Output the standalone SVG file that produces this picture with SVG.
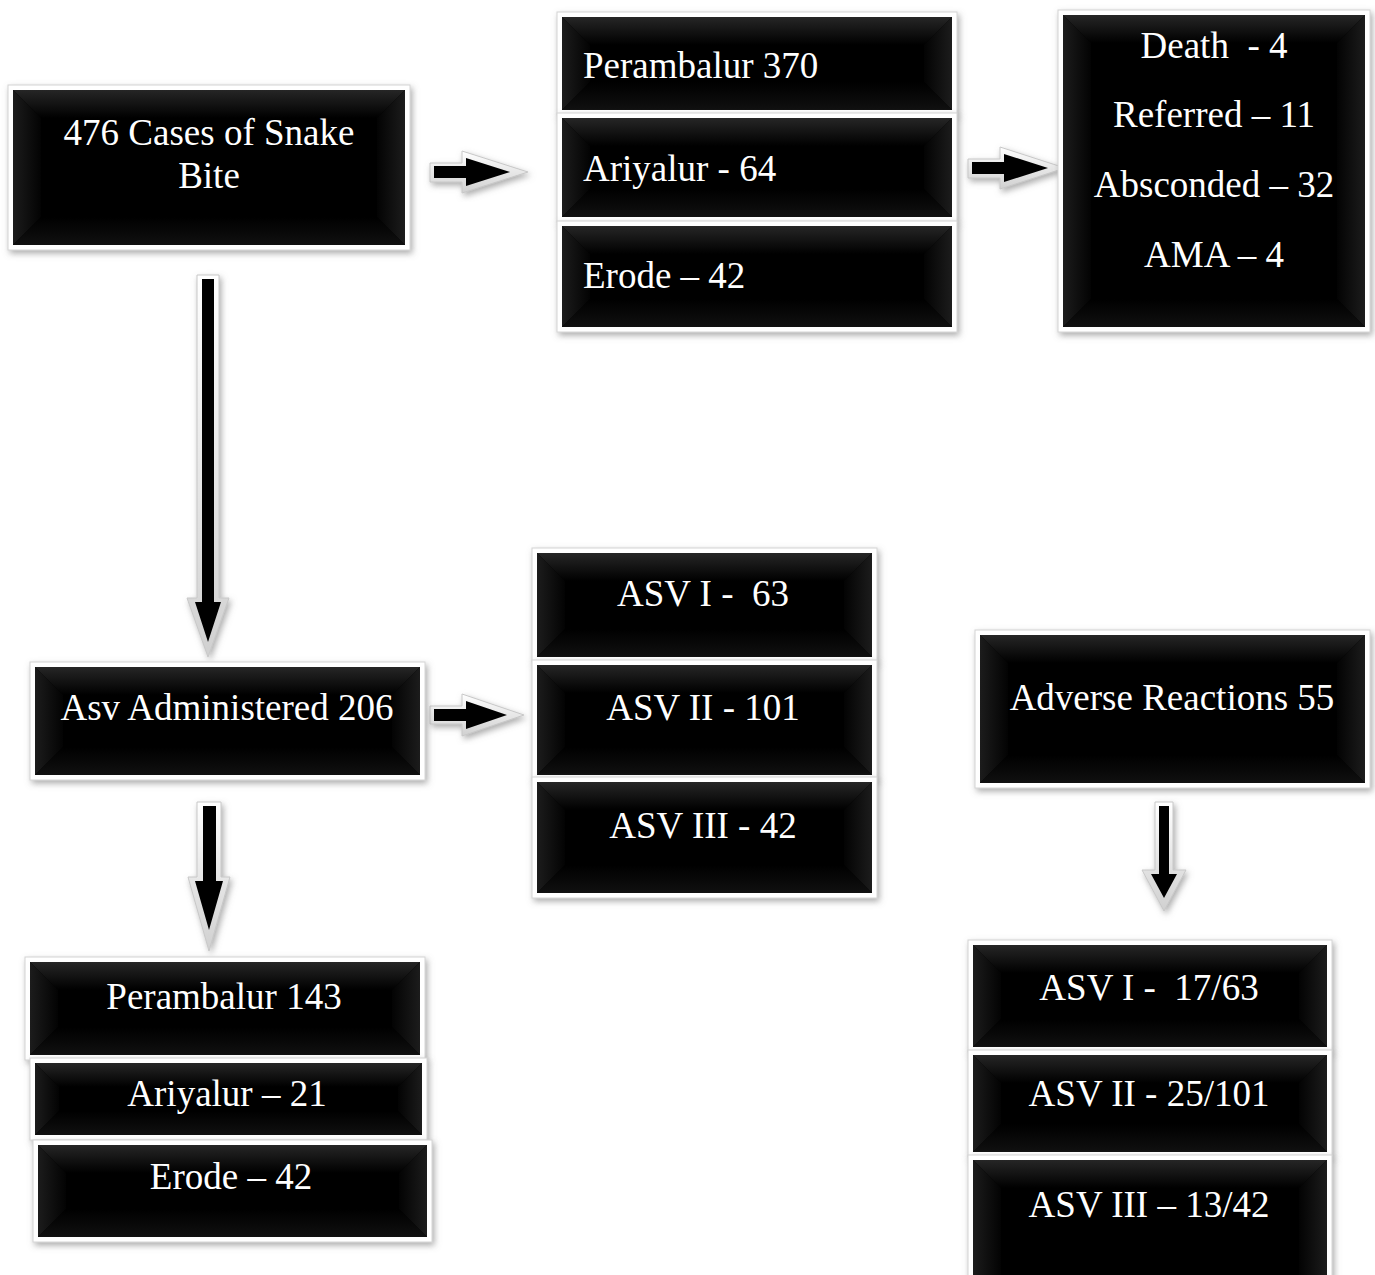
<svg xmlns="http://www.w3.org/2000/svg" width="1375" height="1275" viewBox="0 0 1375 1275">
<defs>
<filter id="sh" x="-10%" y="-10%" width="130%" height="130%">
<feDropShadow dx="2" dy="3" stdDeviation="3" flood-color="#777" flood-opacity="0.6"/>
</filter>
<linearGradient id="gTop" x1="0" y1="0" x2="0" y2="1">
<stop offset="0" stop-color="#262626"/><stop offset="1" stop-color="#000"/>
</linearGradient>
<linearGradient id="gBot" x1="0" y1="0" x2="0" y2="1">
<stop offset="0" stop-color="#000"/><stop offset="1" stop-color="#101010"/>
</linearGradient>
<linearGradient id="gL" x1="0" y1="0" x2="1" y2="0">
<stop offset="0" stop-color="#1c1c1c"/><stop offset="1" stop-color="#030303"/>
</linearGradient>
<linearGradient id="gR" x1="0" y1="0" x2="1" y2="0">
<stop offset="0" stop-color="#030303"/><stop offset="1" stop-color="#1c1c1c"/>
</linearGradient>
<linearGradient id="gAr" x1="0" y1="0" x2="0" y2="1">
<stop offset="0" stop-color="#ffffff"/><stop offset="1" stop-color="#d0d0d0"/>
</linearGradient>
</defs>
<style>
.frame{fill:#ffffff;stroke:#d4d4d4;stroke-width:1;filter:url(#sh)}
.core{fill:#000}
.bt{fill:url(#gTop)}
.bb{fill:url(#gBot)}
.bl{fill:url(#gL)}
.br{fill:url(#gR)}
text{font-family:"Liberation Serif","Times New Roman",serif;font-size:37px;fill:#fff}
.c{text-anchor:middle}
.aout{fill:url(#gAr);stroke:#c8c8c8;stroke-width:1;filter:url(#sh)}
.ain{fill:#000}
</style>

<g id="connectors">
<g id="arrow-cases-to-districts">
<path class="aout" d="M430,163 L462,163 L462,151 L528,172 L462,193 L462,182 L430,182 Z"/>
<path class="ain" d="M434,166 L466,166 L466,158 L510,172 L466,186 L466,178 L434,178 Z"/>
</g>
<g id="arrow-districts-to-outcomes">
<path class="aout" d="M968,159 L1000,159 L1000,147 L1065,168 L1000,189 L1000,178 L968,178 Z"/>
<path class="ain" d="M972,162 L1004,162 L1004,154 L1048,168 L1004,182 L1004,174 L972,174 Z"/>
</g>
<g id="arrow-asv-to-types">
<path class="aout" d="M430,706 L462,706 L462,694 L524,715 L462,736 L462,724 L430,724 Z"/>
<path class="ain" d="M434,709 L466,709 L466,701 L507,715 L466,729 L466,721 L434,721 Z"/>
</g>
<g id="arrow-cases-to-asv">
<path class="aout" d="M197,275 L219,275 L219,598 L229,598 L208,657 L187,598 L197,598 Z"/>
<path class="ain" d="M202,279 L214,279 L214,602 L221,602 L208,642 L195,602 L202,602 Z"/>
</g>
<g id="arrow-asv-to-districts">
<path class="aout" d="M197,802 L221,802 L221,877 L230,877 L209,951 L188,877 L197,877 Z"/>
<path class="ain" d="M203,806 L216,806 L216,881 L223,881 L209,930 L195,881 L203,881 Z"/>
</g>
<g id="arrow-adverse-to-types">
<path class="aout" d="M1155,802 L1173,802 L1173,870 L1186,870 L1164,911 L1142,870 L1155,870 Z"/>
<path class="ain" d="M1159,806 L1169,806 L1169,874 L1177,874 L1164,898 L1151,874 L1159,874 Z"/>
</g>
</g>

<g id="node-cases">
<rect class="frame" x="8" y="85" width="402" height="165"/>
<rect class="core" x="13" y="90" width="392" height="155"/>
<polygon class="bt" points="13,90 405,90 377,118 41,118"/>
<polygon class="bl" points="13,90 41,118 41,217 13,245"/>
<polygon class="br" points="405,90 405,245 377,217 377,118"/>
<polygon class="bb" points="13,245 41,217 377,217 405,245"/>
<rect class="core" x="41" y="118" width="336" height="99"/>
<text class="c" x="209" y="145">476 Cases of Snake</text>
<text class="c" x="209" y="188">Bite</text>
</g>

<g id="node-perambalur-370">
<rect class="frame" x="557" y="12" width="400" height="103"/>
<rect class="core" x="562" y="17" width="390" height="93"/>
<polygon class="bt" points="562,17 952,17 924,45 590,45"/>
<polygon class="bl" points="562,17 590,45 590,82 562,110"/>
<polygon class="br" points="952,17 952,110 924,82 924,45"/>
<polygon class="bb" points="562,110 590,82 924,82 952,110"/>
<rect class="core" x="590" y="45" width="334" height="37"/>
<text x="583" y="78">Perambalur 370</text>
</g>

<g id="node-ariyalur-64">
<rect class="frame" x="557" y="113" width="400" height="109"/>
<rect class="core" x="562" y="118" width="390" height="99"/>
<polygon class="bt" points="562,118 952,118 924,146 590,146"/>
<polygon class="bl" points="562,118 590,146 590,189 562,217"/>
<polygon class="br" points="952,118 952,217 924,189 924,146"/>
<polygon class="bb" points="562,217 590,189 924,189 952,217"/>
<rect class="core" x="590" y="146" width="334" height="43"/>
<text x="583" y="181">Ariyalur - 64</text>
</g>

<g id="node-erode-42-top">
<rect class="frame" x="557" y="221" width="400" height="111"/>
<rect class="core" x="562" y="226" width="390" height="101"/>
<polygon class="bt" points="562,226 952,226 924,254 590,254"/>
<polygon class="bl" points="562,226 590,254 590,299 562,327"/>
<polygon class="br" points="952,226 952,327 924,299 924,254"/>
<polygon class="bb" points="562,327 590,299 924,299 952,327"/>
<rect class="core" x="590" y="254" width="334" height="45"/>
<text x="583" y="288">Erode – 42</text>
</g>

<g id="node-outcomes">
<rect class="frame" x="1058" y="10" width="312" height="322"/>
<rect class="core" x="1063" y="15" width="302" height="312"/>
<polygon class="bt" points="1063,15 1365,15 1337,43 1091,43"/>
<polygon class="bl" points="1063,15 1091,43 1091,299 1063,327"/>
<polygon class="br" points="1365,15 1365,327 1337,299 1337,43"/>
<polygon class="bb" points="1063,327 1091,299 1337,299 1365,327"/>
<rect class="core" x="1091" y="43" width="246" height="256"/>
<text class="c" x="1214" y="58" xml:space="preserve">Death  - 4</text>
<text class="c" x="1214" y="127">Referred – 11</text>
<text class="c" x="1214" y="197">Absconded – 32</text>
<text class="c" x="1214" y="267">AMA – 4</text>
</g>

<g id="node-asv-administered">
<rect class="frame" x="30" y="662" width="395" height="118"/>
<rect class="core" x="35" y="667" width="385" height="108"/>
<polygon class="bt" points="35,667 420,667 392,695 63,695"/>
<polygon class="bl" points="35,667 63,695 63,747 35,775"/>
<polygon class="br" points="420,667 420,775 392,747 392,695"/>
<polygon class="bb" points="35,775 63,747 392,747 420,775"/>
<rect class="core" x="63" y="695" width="329" height="52"/>
<text class="c" x="227" y="720">Asv Administered 206</text>
</g>

<g id="node-asv-1">
<rect class="frame" x="532" y="548" width="345" height="114"/>
<rect class="core" x="537" y="553" width="335" height="104"/>
<polygon class="bt" points="537,553 872,553 844,581 565,581"/>
<polygon class="bl" points="537,553 565,581 565,629 537,657"/>
<polygon class="br" points="872,553 872,657 844,629 844,581"/>
<polygon class="bb" points="537,657 565,629 844,629 872,657"/>
<rect class="core" x="565" y="581" width="279" height="48"/>
<text class="c" x="703" y="606" xml:space="preserve">ASV I -  63</text>
</g>

<g id="node-asv-2">
<rect class="frame" x="532" y="660" width="345" height="120"/>
<rect class="core" x="537" y="665" width="335" height="110"/>
<polygon class="bt" points="537,665 872,665 844,693 565,693"/>
<polygon class="bl" points="537,665 565,693 565,747 537,775"/>
<polygon class="br" points="872,665 872,775 844,747 844,693"/>
<polygon class="bb" points="537,775 565,747 844,747 872,775"/>
<rect class="core" x="565" y="693" width="279" height="54"/>
<text class="c" x="703" y="720">ASV II - 101</text>
</g>

<g id="node-asv-3">
<rect class="frame" x="532" y="777" width="345" height="121"/>
<rect class="core" x="537" y="782" width="335" height="111"/>
<polygon class="bt" points="537,782 872,782 844,810 565,810"/>
<polygon class="bl" points="537,782 565,810 565,865 537,893"/>
<polygon class="br" points="872,782 872,893 844,865 844,810"/>
<polygon class="bb" points="537,893 565,865 844,865 872,893"/>
<rect class="core" x="565" y="810" width="279" height="55"/>
<text class="c" x="703" y="838">ASV III - 42</text>
</g>

<g id="node-perambalur-143">
<rect class="frame" x="25" y="957" width="400" height="103"/>
<rect class="core" x="30" y="962" width="390" height="93"/>
<polygon class="bt" points="30,962 420,962 392,990 58,990"/>
<polygon class="bl" points="30,962 58,990 58,1027 30,1055"/>
<polygon class="br" points="420,962 420,1055 392,1027 392,990"/>
<polygon class="bb" points="30,1055 58,1027 392,1027 420,1055"/>
<rect class="core" x="58" y="990" width="334" height="37"/>
<text class="c" x="224" y="1009">Perambalur 143</text>
</g>

<g id="node-ariyalur-21">
<rect class="frame" x="30" y="1058" width="397" height="82"/>
<rect class="core" x="35" y="1063" width="387" height="72"/>
<polygon class="bt" points="35,1063 422,1063 398,1087 59,1087"/>
<polygon class="bl" points="35,1063 59,1087 59,1111 35,1135"/>
<polygon class="br" points="422,1063 422,1135 398,1111 398,1087"/>
<polygon class="bb" points="35,1135 59,1111 398,1111 422,1135"/>
<rect class="core" x="59" y="1087" width="339" height="24"/>
<text class="c" x="227" y="1106">Ariyalur – 21</text>
</g>

<g id="node-erode-42-bottom">
<rect class="frame" x="33" y="1140" width="399" height="102"/>
<rect class="core" x="38" y="1145" width="389" height="92"/>
<polygon class="bt" points="38,1145 427,1145 399,1173 66,1173"/>
<polygon class="bl" points="38,1145 66,1173 66,1209 38,1237"/>
<polygon class="br" points="427,1145 427,1237 399,1209 399,1173"/>
<polygon class="bb" points="38,1237 66,1209 399,1209 427,1237"/>
<rect class="core" x="66" y="1173" width="333" height="36"/>
<text class="c" x="231" y="1189">Erode – 42</text>
</g>

<g id="node-adverse">
<rect class="frame" x="975" y="630" width="395" height="158"/>
<rect class="core" x="980" y="635" width="385" height="148"/>
<polygon class="bt" points="980,635 1365,635 1337,663 1008,663"/>
<polygon class="bl" points="980,635 1008,663 1008,755 980,783"/>
<polygon class="br" points="1365,635 1365,783 1337,755 1337,663"/>
<polygon class="bb" points="980,783 1008,755 1337,755 1365,783"/>
<rect class="core" x="1008" y="663" width="329" height="92"/>
<text class="c" x="1172" y="710">Adverse Reactions 55</text>
</g>

<g id="node-adverse-asv-1">
<rect class="frame" x="968" y="940" width="364" height="112"/>
<rect class="core" x="973" y="945" width="354" height="102"/>
<polygon class="bt" points="973,945 1327,945 1299,973 1001,973"/>
<polygon class="bl" points="973,945 1001,973 1001,1019 973,1047"/>
<polygon class="br" points="1327,945 1327,1047 1299,1019 1299,973"/>
<polygon class="bb" points="973,1047 1001,1019 1299,1019 1327,1047"/>
<rect class="core" x="1001" y="973" width="298" height="46"/>
<text class="c" x="1149" y="1000" xml:space="preserve">ASV I -  17/63</text>
</g>

<g id="node-adverse-asv-2">
<rect class="frame" x="968" y="1050" width="364" height="107"/>
<rect class="core" x="973" y="1055" width="354" height="97"/>
<polygon class="bt" points="973,1055 1327,1055 1299,1083 1001,1083"/>
<polygon class="bl" points="973,1055 1001,1083 1001,1124 973,1152"/>
<polygon class="br" points="1327,1055 1327,1152 1299,1124 1299,1083"/>
<polygon class="bb" points="973,1152 1001,1124 1299,1124 1327,1152"/>
<rect class="core" x="1001" y="1083" width="298" height="41"/>
<text class="c" x="1149" y="1106">ASV II - 25/101</text>
</g>

<g id="node-adverse-asv-3">
<rect class="frame" x="968" y="1155" width="364" height="130"/>
<rect class="core" x="973" y="1160" width="354" height="120"/>
<polygon class="bt" points="973,1160 1327,1160 1299,1188 1001,1188"/>
<polygon class="bl" points="973,1160 1001,1188 1001,1280 973,1280"/>
<polygon class="br" points="1327,1160 1327,1280 1299,1280 1299,1188"/>
<rect class="core" x="1001" y="1188" width="298" height="92"/>
<text class="c" x="1149" y="1217">ASV III – 13/42</text>
</g>
</svg>
